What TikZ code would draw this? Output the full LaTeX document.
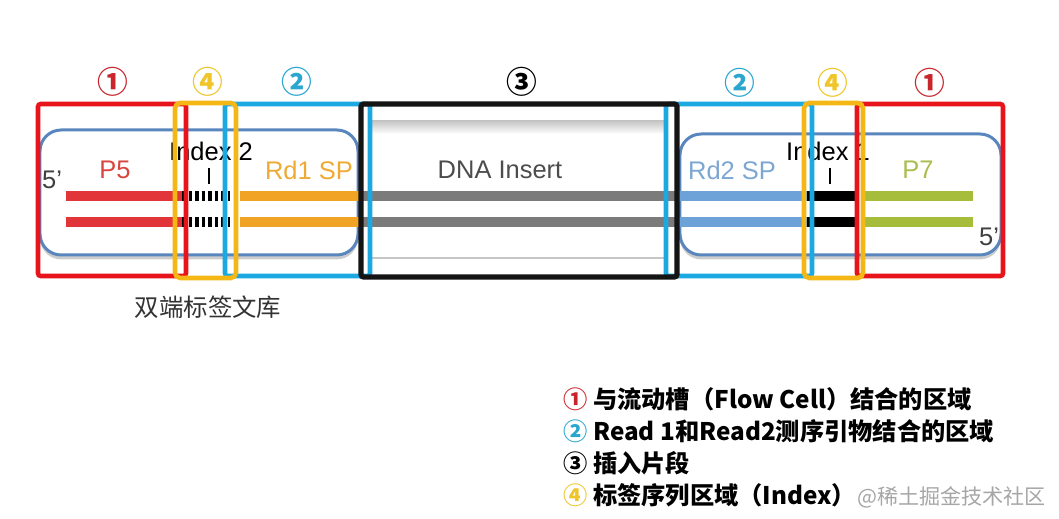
\documentclass[tikz,border=0pt]{standalone}
\usepackage{fontspec}
\setmainfont{Liberation Sans}
\newfontfamily\cjk{Noto Sans CJK SC}
\usetikzlibrary{shadows}

\definecolor{boxred}{HTML}{E8141B}
\definecolor{boxblue}{HTML}{1CA8E0}
\definecolor{boxyellow}{HTML}{F4B716}
\definecolor{adapterblue}{HTML}{5A86BE}
\definecolor{strandred}{HTML}{E2353A}
\definecolor{strandorange}{HTML}{F0A325}
\definecolor{strandgray}{HTML}{7B7B7B}
\definecolor{strandblue}{HTML}{6CA2D8}
\definecolor{strandgreen}{HTML}{A6BD3B}
\definecolor{txtred}{HTML}{D8463F}
\definecolor{txtorange}{HTML}{EEAA35}
\definecolor{txtblue}{HTML}{7DA7D3}
\definecolor{txtgreen}{HTML}{A9BE4E}
\definecolor{numred}{HTML}{C9252C}
\definecolor{numblue}{HTML}{2AA6CF}
\definecolor{numyellow}{HTML}{EFC52A}

\tikzset{
	region/.style={line width=2.6pt, rounded corners=1.5pt},
	adapter/.style={draw=adapterblue, line width=1.7pt, rounded corners=12pt, fill=white,
		drop shadow={opacity=0.4, shadow xshift=0pt, shadow yshift=-2.5pt}},
	strand/.style={line width=5.5pt},
	lbl/.style={font=\fontsize{14.5}{17}\selectfont, inner sep=0pt},
	circnum/.style={font=\cjk\bfseries\fontsize{17.5}{20}\selectfont, inner sep=0pt},
	legend/.style={font=\cjk\bfseries\fontsize{13.8}{16}\selectfont, anchor=west, inner sep=0pt},
}

\begin{document}
\begin{tikzpicture}[x=0.02cm, y=-0.02cm]
		
		\useasboundingbox (0,0) rectangle (1059,519);
		
		% Adapters and insert
		\path[adapter] (40,130) rectangle (358,255);
		\path[adapter] (680,134) rectangle (1001,255);
		\shade[top color=gray!45, bottom color=white] (372,121) rectangle (664,134);
		\draw[gray!45, line width=1pt] (372,258) -- (664,258);
		
		% Strands
		\foreach \y in {196,222} {
			\draw[strand, strandred] (66,\y) -- (182,\y);
			\draw[strand, black, dash pattern=on 2pt off 1.7pt] (182,\y) -- (230,\y);
			\draw[strand, strandorange] (240,\y) -- (362,\y);
			\draw[strand, strandgray] (362,\y) -- (677,\y);
			\draw[strand, strandblue] (677,\y) -- (807,\y);
			\draw[strand, black] (807,\y) -- (857,\y);
			\draw[strand, strandgreen] (865,\y) -- (973,\y);
		}
		
		% Labels
		\node[lbl, text=black!75] (fiveL) at (52,180) {5’};
		\node[lbl, text=txtred] (p5) at (115,170) {P5};
		\node[lbl] (idx2) at (211,151) {Index 2};
		\draw[line width=0.7pt] (209,168) -- (209,184);
		\node[lbl, text=txtorange] (rd1) at (309,170) {Rd1 SP};
		\node[lbl, text=black!70] (insert) at (500,170) {DNA Insert};
		\node[lbl, text=txtblue] (rd2) at (732,170) {Rd2 SP};
		\node[lbl] (idx1) at (828,151) {Index 1};
		\draw[line width=0.7pt] (830,168) -- (830,184);
		\node[lbl, text=txtgreen] (p7) at (918,170) {P7};
		\node[lbl, text=black!75] (fiveR) at (989,237) {5’};
		
		% Regions
		\draw[region, boxred] (38,104) rectangle (186,276);
		\draw[region, boxred] (857,104) rectangle (1003,276);
		\draw[region, boxblue] (225,104) rectangle (370,276);
		\draw[region, boxblue] (666,104) rectangle (812,276);
		\draw[region, black!92, line width=3pt] (361,104) rectangle (677,277);
		\draw[region, boxyellow, rounded corners=3pt] (175,103) rectangle (236,278);
		\draw[region, boxyellow, rounded corners=3pt] (804,103) rectangle (863,278);
		
		% Region numbers
		\node[circnum, text=numred] (numAL) at (113,82) {①};
		\node[circnum, text=numyellow] (numDL) at (208,82) {④};
		\node[circnum, text=numblue] (numBL) at (297,82) {②};
		\node[circnum, text=black] (numC) at (522,82) {③};
		\node[circnum, text=numblue] (numBR) at (740,83) {②};
		\node[circnum, text=numyellow] (numDR) at (833,83) {④};
		\node[circnum, text=numred] (numAR) at (930,83) {①};
		
		\node[font=\cjk\fontsize{13.9}{16}\selectfont, text=black!80] (lib) at (208,307) {双端标签文库};
		
		% Legend
		\node[legend] (legA) at (563,399) {{\color{numred}①} 与流动槽（Flow Cell）结合的区域};
		\node[legend] (legB) at (563,431) {{\color{numblue}②} Read 1和Read2测序引物结合的区域};
		\node[legend] (legC) at (563,463) {③ 插入片段};
		\node[legend] (legD) at (563,495) {{\color{numyellow}④} 标签序列区域（Index）};
		\node[font=\cjk\fontsize{12}{14}\selectfont, text=black!35, anchor=east] (mark) at (1052,497) {@稀土掘金技术社区};
		
\end{tikzpicture}
\end{document}
